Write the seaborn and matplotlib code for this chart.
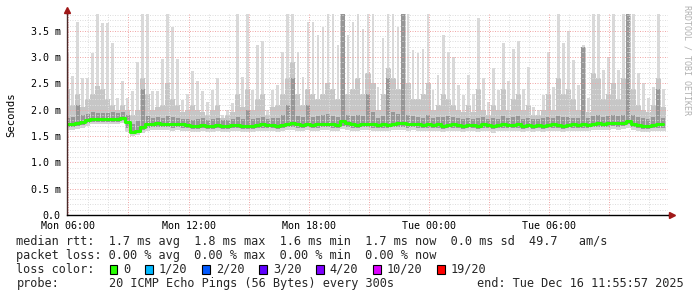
import matplotlib
matplotlib.use("Agg")
import matplotlib.pyplot as plt
import matplotlib.dates as mdates
from matplotlib.ticker import MultipleLocator, FuncFormatter
from matplotlib.patches import Rectangle
from matplotlib.lines import Line2D
import numpy as np
import pandas as pd
import seaborn as sns
from datetime import datetime, timedelta

# ---------------- data (values in ms, one bin = 15 min) ----------------
bin_start = datetime(2025, 12, 15, 5, 50)
bin_minutes = 15
view_start = datetime(2025, 12, 15, 5, 56)
view_hours = 30

rtt_max = [
    3.10, 2.65, 3.67, 2.60, 2.60, 3.07, 3.85, 3.65, 3.65, 3.26,
    2.22, 2.55, 2.22, 2.35, 2.90, 3.85, 3.85, 2.35, 2.35, 2.97,
    3.85, 3.57, 2.97, 2.18, 2.30, 2.73, 2.55, 2.35, 2.15, 2.37,
    2.60, 1.90, 2.00, 2.12, 3.85, 2.63, 3.85, 2.37, 3.23, 3.30,
    2.00, 2.37, 2.47, 3.10, 3.85, 3.85, 3.10, 2.63, 3.67, 3.67,
    3.42, 3.57, 3.85, 3.85, 3.23, 3.85, 3.42, 3.67, 3.85, 3.54,
    3.85, 3.85, 2.44, 3.36, 3.85, 3.85, 3.57, 3.85, 3.85, 3.13,
    3.07, 3.16, 3.85, 2.37, 2.66, 3.42, 3.10, 3.00, 2.47, 2.28,
    2.66, 2.30, 3.74, 2.60, 2.15, 2.79, 2.37, 3.26, 2.55, 3.16,
    3.30, 2.40, 2.82, 2.06, 2.00, 2.28, 3.10, 2.44, 3.85, 3.26,
    3.50, 2.94, 2.47, 3.23, 2.22, 3.85, 3.85, 2.76, 3.00, 3.85,
    2.76, 3.85, 3.85, 3.85, 2.70, 2.50, 2.22, 2.44, 3.85, 2.40,
]
rtt_mid = [
    2.40, 2.10, 2.30, 2.05, 2.20, 2.30, 2.45, 2.40, 2.20, 2.10,
    2.00, 2.10, 2.00, 1.90, 2.00, 2.60, 2.30, 2.00, 2.05, 2.10,
    2.50, 2.20, 2.10, 1.95, 2.00, 2.10, 2.00, 1.95, 1.90, 2.00,
    2.10, 1.85, 1.90, 1.95, 2.30, 2.05, 2.40, 2.00, 2.20, 2.30,
    1.90, 2.05, 2.10, 2.30, 2.60, 2.90, 2.30, 2.10, 2.40, 2.30,
    2.20, 2.30, 2.50, 2.40, 2.20, 3.85, 2.30, 2.40, 2.60, 2.30,
    2.70, 2.50, 2.00, 2.30, 2.80, 2.60, 2.40, 3.85, 2.50, 2.20,
    2.20, 2.30, 2.50, 2.00, 2.10, 2.30, 2.20, 2.10, 2.00, 1.95,
    2.10, 1.95, 2.40, 2.00, 1.90, 2.10, 2.00, 2.40, 2.00, 2.20,
    2.30, 2.00, 2.10, 1.90, 1.90, 2.00, 2.30, 2.00, 2.60, 2.30,
    2.40, 2.20, 2.00, 3.20, 1.95, 2.70, 2.60, 2.20, 2.30, 2.50,
    2.20, 2.60, 3.85, 2.40, 2.10, 2.00, 1.95, 2.10, 2.60, 2.05,
]
rtt_dark = [
    1.84, 1.86, 2.10, 1.90, 1.92, 1.95, 1.93, 1.94, 1.93, 1.95,
    1.94, 1.96, 1.90, 1.72, 1.78, 2.40, 1.88, 1.85, 1.86, 1.84,
    1.88, 1.86, 1.84, 1.82, 1.82, 1.81, 1.82, 1.85, 1.81, 1.82,
    1.84, 1.80, 1.80, 1.82, 1.86, 1.82, 2.00, 1.82, 1.85, 1.86,
    1.82, 1.84, 1.85, 1.90, 2.10, 2.60, 1.88, 1.86, 2.10, 1.86,
    1.88, 1.90, 1.92, 1.88, 1.86, 3.85, 1.90, 1.88, 1.90, 1.88,
    2.30, 1.95, 1.84, 1.88, 2.60, 1.95, 1.92, 3.85, 1.90, 1.88,
    1.86, 1.84, 1.90, 1.84, 1.86, 1.86, 1.88, 1.86, 1.84, 1.82,
    1.84, 1.82, 1.84, 1.86, 1.82, 1.84, 1.83, 1.88, 1.84, 1.86,
    1.88, 1.82, 1.84, 1.82, 1.82, 1.84, 1.86, 1.84, 1.88, 1.86,
    1.86, 1.84, 1.84, 3.20, 1.84, 1.88, 1.90, 1.86, 1.88, 1.90,
    1.88, 1.90, 3.85, 1.90, 1.86, 1.84, 1.82, 1.86, 2.40, 1.85,
]
rtt_median = [
    1.73, 1.73, 1.74, 1.77, 1.80, 1.82, 1.82, 1.83, 1.82, 1.83,
    1.83, 1.84, 1.76, 1.58, 1.60, 1.67, 1.72, 1.73, 1.74, 1.73,
    1.73, 1.72, 1.73, 1.72, 1.71, 1.70, 1.70, 1.71, 1.70, 1.70,
    1.71, 1.70, 1.70, 1.71, 1.71, 1.70, 1.69, 1.70, 1.71, 1.72,
    1.71, 1.71, 1.70, 1.71, 1.73, 1.75, 1.72, 1.71, 1.73, 1.71,
    1.72, 1.73, 1.73, 1.72, 1.71, 1.78, 1.74, 1.72, 1.71, 1.73,
    1.73, 1.72, 1.71, 1.72, 1.71, 1.73, 1.74, 1.74, 1.72, 1.73,
    1.72, 1.71, 1.72, 1.71, 1.72, 1.70, 1.71, 1.72, 1.71, 1.70,
    1.71, 1.71, 1.70, 1.72, 1.71, 1.70, 1.71, 1.72, 1.71, 1.71,
    1.72, 1.70, 1.71, 1.70, 1.71, 1.70, 1.71, 1.72, 1.71, 1.70,
    1.71, 1.72, 1.71, 1.72, 1.71, 1.73, 1.74, 1.73, 1.74, 1.75,
    1.74, 1.75, 1.79, 1.73, 1.71, 1.70, 1.70, 1.71, 1.72, 1.72,
]
rtt_low = [
    1.68, 1.68, 1.69, 1.71, 1.74, 1.76, 1.76, 1.77, 1.76, 1.77,
    1.77, 1.78, 1.66, 1.53, 1.55, 1.61, 1.66, 1.67, 1.68, 1.67,
    1.67, 1.66, 1.67, 1.66, 1.65, 1.64, 1.64, 1.65, 1.64, 1.64,
    1.65, 1.64, 1.64, 1.65, 1.65, 1.64, 1.63, 1.64, 1.65, 1.66,
    1.65, 1.65, 1.64, 1.65, 1.67, 1.68, 1.66, 1.65, 1.67, 1.65,
    1.66, 1.67, 1.67, 1.66, 1.65, 1.70, 1.68, 1.66, 1.65, 1.67,
    1.67, 1.66, 1.65, 1.66, 1.65, 1.67, 1.68, 1.68, 1.66, 1.67,
    1.66, 1.65, 1.66, 1.65, 1.66, 1.64, 1.65, 1.66, 1.65, 1.64,
    1.65, 1.65, 1.64, 1.66, 1.65, 1.64, 1.65, 1.66, 1.65, 1.65,
    1.66, 1.64, 1.65, 1.64, 1.65, 1.64, 1.65, 1.66, 1.65, 1.64,
    1.65, 1.66, 1.65, 1.66, 1.65, 1.67, 1.68, 1.67, 1.68, 1.69,
    1.68, 1.69, 1.72, 1.67, 1.65, 1.64, 1.64, 1.65, 1.66, 1.66,
]
rtt_min = [
    1.62, 1.62, 1.63, 1.66, 1.70, 1.72, 1.72, 1.73, 1.72, 1.73,
    1.73, 1.74, 1.58, 1.50, 1.52, 1.56, 1.60, 1.61, 1.62, 1.61,
    1.61, 1.60, 1.61, 1.60, 1.59, 1.58, 1.58, 1.59, 1.58, 1.58,
    1.59, 1.58, 1.58, 1.59, 1.59, 1.58, 1.57, 1.58, 1.59, 1.60,
    1.59, 1.59, 1.58, 1.59, 1.61, 1.62, 1.60, 1.59, 1.61, 1.59,
    1.60, 1.61, 1.61, 1.60, 1.59, 1.64, 1.62, 1.60, 1.59, 1.61,
    1.61, 1.60, 1.59, 1.60, 1.59, 1.61, 1.62, 1.62, 1.60, 1.61,
    1.60, 1.59, 1.60, 1.59, 1.60, 1.58, 1.59, 1.60, 1.59, 1.58,
    1.59, 1.59, 1.58, 1.60, 1.59, 1.56, 1.59, 1.60, 1.59, 1.59,
    1.60, 1.58, 1.59, 1.58, 1.59, 1.58, 1.59, 1.60, 1.59, 1.58,
    1.59, 1.60, 1.59, 1.60, 1.59, 1.61, 1.62, 1.61, 1.62, 1.63,
    1.62, 1.63, 1.66, 1.61, 1.59, 1.58, 1.58, 1.59, 1.60, 1.60,
]

legend_rtt = "median rtt:  1.7 ms avg  1.8 ms max  1.6 ms min  1.7 ms now  0.0 ms sd  49.7   am/s"
legend_loss = "packet loss: 0.00 % avg  0.00 % max  0.00 % min  0.00 % now"
loss_labels = ["0", "1/20", "2/20", "3/20", "4/20", "10/20", "19/20"]
loss_colors = ["#26ff00", "#00b8ff", "#0059ff", "#5e00ff", "#7e00ff", "#dd00ff", "#ff0000"]
probe_text = "20 ICMP Echo Pings (56 Bytes) every 300s"
end_text = "end: Tue Dec 16 11:55:57 2025"

# ---------------- figure ----------------
sns.set_theme(style="white")
plt.rcParams['font.family'] = ['DejaVu Sans Mono', 'DejaVu Sans']

W, H = 697, 297
fig = plt.figure(figsize=(W / 100, H / 100), dpi=100)
fig.patch.set_facecolor("white")
L, R, T, B = 67, 668, 14, 215
ax = fig.add_axes([L / W, 1 - B / H, (R - L) / W, (B - T) / H])
ax.set_facecolor("white")

centers = [mdates.date2num(bin_start + timedelta(minutes=bin_minutes * (i + 0.5)))
           for i in range(len(rtt_max))]
df = pd.DataFrame({"t": centers, "max": rtt_max, "mid": rtt_mid, "dark": rtt_dark,
                   "median": rtt_median, "low": rtt_low, "min": rtt_min})

# smoke layers (painted back to front, each from zero)
layers = [("max", "#d9d9d9", 0.55), ("mid", "#c6c6c6", 1.0), ("dark", "#979797", 0.8),
          ("low", "#d4d4d4", 1.0), ("min", "#ffffff", 1.0)]
for col, c, w in layers:
    sns.barplot(data=df, x="t", y=col, native_scale=True, width=w, color=c,
                saturation=1, errorbar=None, linewidth=0, antialiased=False,
                ax=ax)

sns.lineplot(data=df, x="t", y="median", color="#26ff00", linewidth=2.2,
             drawstyle="steps-mid", ax=ax, zorder=4)

x0 = mdates.date2num(view_start)
x1 = mdates.date2num(view_start + timedelta(hours=view_hours))
ax.set_xlim(x0, x1)
ax.set_ylim(0, 3.82)
ax.set_xlabel("")
ax.set_ylabel("")

# axes, ticks, grid
ax.xaxis.set_major_locator(mdates.HourLocator(byhour=range(0, 24, 3)))
ax.xaxis.set_minor_locator(mdates.HourLocator())


def xfmt(v, p):
    d = mdates.num2date(v)
    return d.strftime("%a %H:%M") if d.hour % 6 == 0 else ""


ax.xaxis.set_major_formatter(FuncFormatter(xfmt))
ax.yaxis.set_major_locator(MultipleLocator(0.5))
ax.yaxis.set_minor_locator(MultipleLocator(0.1))
ax.yaxis.set_major_formatter(FuncFormatter(lambda v, p: "0.0" if abs(v) < 1e-9 else f"{v:.1f} m"))

ax.grid(True, which="major", color="#f0a8a8", linestyle=(0, (1, 1.5)), linewidth=0.72)
ax.grid(True, which="minor", color="#dedede", linestyle=(0, (1, 1.5)), linewidth=0.72)
ax.set_axisbelow(False)

ax.tick_params(axis="x", which="major", length=2, width=0.72, color="#e89a9a",
               pad=2.5, labelsize=7.2, labelcolor="#000000")
ax.tick_params(axis="x", which="minor", length=2, width=0.72, color="#cfcfcf")
ax.tick_params(axis="y", which="major", length=2, width=0.72, color="#e89a9a",
               pad=2.5, labelsize=7.2, labelcolor="#000000")
ax.tick_params(axis="y", which="minor", length=0)

for s in ("top", "right"):
    ax.spines[s].set_visible(False)
ax.spines["left"].set_color("#4a2a2a")
ax.spines["left"].set_linewidth(1.0)
ax.spines["bottom"].set_color("#000000")
ax.spines["bottom"].set_linewidth(1.0)
for s in ("left", "bottom"):
    ax.spines[s].set_zorder(5)

# axis extensions with arrow heads
ax.add_line(Line2D([0, 0], [1.0, 1.02], transform=ax.transAxes, color="#4a2a2a",
                   linewidth=1.0, clip_on=False))
ax.add_line(Line2D([1.0, 1.004], [0, 0], transform=ax.transAxes, color="#000000",
                   linewidth=1.0, clip_on=False))
ax.plot([0], [1.022], marker="^", markersize=4, color="#a01818", transform=ax.transAxes,
        clip_on=False, zorder=6)
ax.plot([1.006], [0], marker=">", markersize=4, color="#a01818", transform=ax.transAxes,
        clip_on=False, zorder=6)

# titles / side text
fig.text(11 / W, 1 - 115 / H, "Seconds", rotation=90, ha="center", va="center",
         fontsize=7.6, color="#000000")
fig.text(686.5 / W, 1 - 60 / H, "RRDTOOL / TOBI OETIKER", rotation=270, ha="center",
         va="center", fontsize=6.0, color="#b0b0b0")

# legend block
cw = 7.12
lx = 16.5
fs = 8.55
rows = [245, 259, 273, 287]
fig.text(lx / W, 1 - rows[0] / H, legend_rtt, ha="left", va="baseline", fontsize=fs)
fig.text(lx / W, 1 - rows[1] / H, legend_loss, ha="left", va="baseline", fontsize=fs)
fig.text(lx / W, 1 - rows[2] / H, "loss color:", ha="left", va="baseline", fontsize=fs)
col = 13
for lab, c in zip(loss_labels, loss_colors):
    sx = lx + col * cw + 0.5
    fig.add_artist(Rectangle((sx / W, 1 - (rows[2] + 0.5) / H), 7.5 / W, 9 / H,
                             transform=fig.transFigure, facecolor=c, edgecolor="#000000",
                             linewidth=0.8))
    fig.text((lx + (col + 2) * cw) / W, 1 - rows[2] / H, lab, ha="left", va="baseline",
             fontsize=fs)
    col += 2 + len(lab) + 2
fig.text(lx / W, 1 - rows[3] / H, "probe:", ha="left", va="baseline", fontsize=fs)
fig.text((lx + 13 * cw) / W, 1 - rows[3] / H, probe_text, ha="left", va="baseline", fontsize=fs)
fig.text(684 / W, 1 - rows[3] / H, end_text, ha="right", va="baseline", fontsize=fs)

fig.savefig("out.png", dpi=100, facecolor="white")
